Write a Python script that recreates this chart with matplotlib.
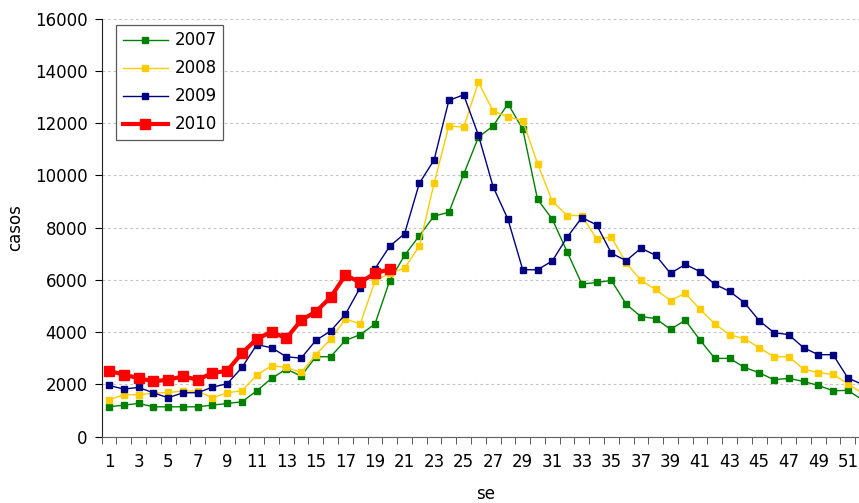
import matplotlib
matplotlib.use("Agg")
import matplotlib.pyplot as plt
from matplotlib.ticker import MultipleLocator, FixedLocator

plt.rcParams['font.family'] = ['DejaVu Sans']

# semanas epidemiologicas
weeks = list(range(1, 53))
weeks_2010 = list(range(1, 21))

casos_2007 = [1137, 1201, 1265, 1137, 1137, 1137, 1137, 1201, 1265, 1329,
              1751, 2224, 2582, 2313, 3054, 3054, 3680, 3898, 4307, 5968,
              6930, 7685, 8440, 8580, 10035, 11457, 11891, 12735, 11764, 9080,
              8317, 7075, 5833, 5897, 5974, 5064, 4590, 4513, 4103, 4449,
              3690, 2990, 2990, 2645, 2441, 2173, 2224, 2109, 1955, 1751,
              1765, 1400]
casos_2008 = [1406, 1597, 1597, 1661, 1687, 1738, 1738, 1482, 1674, 1751,
              2352, 2709, 2645, 2450, 3131, 3732, 4499, 4307, 5950, 6250,
              6445, 7280, 9690, 11890, 11840, 13553, 12454, 12237, 12096, 10447,
              9008, 8458, 8458, 7562, 7628, 6641, 5974, 5628, 5205, 5487,
              4864, 4314, 3891, 3745, 3400, 3054, 3054, 2582, 2441, 2377,
              2020, 1650]
casos_2009 = [1955, 1815, 1879, 1674, 1482, 1674, 1674, 1891, 2019, 2645,
              3514, 3400, 3054, 2997, 3680, 4038, 4680, 5700, 6420, 7285,
              7760, 9690, 10585, 12863, 13080, 11534, 9553, 8313, 6383, 6383,
              6720, 7625, 8380, 8100, 7013, 6731, 7205, 6936, 6244, 6590,
              6310, 5825, 5555, 5125, 4435, 3975, 3898, 3400, 3131, 3131,
              2240, 1990]
casos_2010 = [2518, 2364, 2236, 2109, 2173, 2300, 2173, 2428, 2518, 3195,
              3732, 4013, 3757, 4450, 4780, 5329, 6180, 5900, 6250, 6400]

fig = plt.figure(figsize=(8.59, 5.03), dpi=100)
# el eje sigue mas alla del borde derecho, como en el original
ax = fig.add_axes([0.1183, 0.1322, 0.8945, 0.831])

ax.plot(weeks, casos_2007, color='#008000', lw=1.0, marker='s', ms=4.3, label='2007')
ax.plot(weeks, casos_2008, color='#FFCC00', lw=1.0, marker='s', ms=4.3, label='2008')
ax.plot(weeks, casos_2009, color='#000080', lw=1.0, marker='s', ms=4.3, label='2009')
ax.plot(weeks_2010, casos_2010, color='#FF0000', lw=3.0, marker='s', ms=7.5, label='2010')

ax.set_xlim(0.5, 52.5)
ax.set_ylim(0, 16000)
ax.yaxis.set_major_locator(MultipleLocator(2000))
ax.grid(axis='y', color='#c4c4c4', linestyle=(0, (2.5, 2.5)), linewidth=0.8)
ax.set_axisbelow(True)

ax.xaxis.set_major_locator(FixedLocator(list(range(1, 53, 2))))
ax.xaxis.set_minor_locator(FixedLocator([w + 0.5 for w in range(0, 53)]))
ax.tick_params(axis='x', which='major', length=0, pad=12, labelsize=12)
ax.tick_params(axis='x', which='minor', length=5, direction='out', color='#404040')
ax.tick_params(axis='y', length=5, direction='out', labelsize=12, pad=5)

for side in ['top', 'right']:
    ax.spines[side].set_visible(False)
ax.spines['left'].set_color('#202020')
ax.spines['bottom'].set_color('#606060')

ax.set_xlabel('se', fontsize=12, labelpad=10)
ax.set_ylabel('casos', fontsize=12, labelpad=8)

leg = ax.legend(loc='upper left', bbox_to_anchor=(0.019, 0.985), borderaxespad=0,
                fancybox=False, edgecolor='#303030', fontsize=12, handlelength=2.7,
                labelspacing=0.6, handletextpad=0.4, borderpad=0.4)
leg.get_frame().set_linewidth(0.9)

fig.savefig('out.png', dpi=100)
